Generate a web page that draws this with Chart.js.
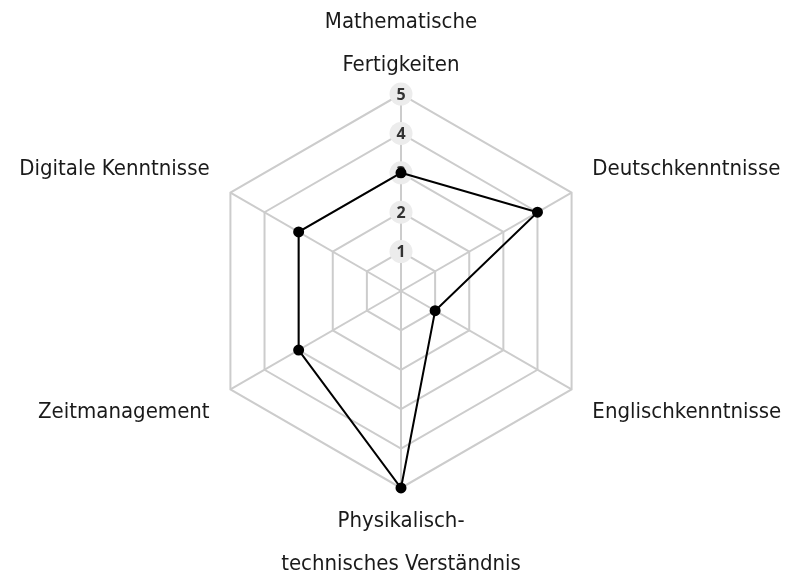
<!DOCTYPE html>
<html>
<head>
<meta charset="utf-8">
<script src="https://cdn.jsdelivr.net/npm/chart.js@4"></script>
<style>
  html, body { margin: 0; padding: 0; background: #fff; overflow: hidden; }
  /* etwas höher als das Fenster: die untere Beschriftung ragt leicht über den Rand */
  #wrap { width: 794px; height: 590px; margin-top: -1px; }
</style>
</head>
<body>
<div id="wrap"><canvas id="myChart"></canvas></div>
<script>
// Kategorien, Werte und Skalenbeschriftungen
const kategorien = [
  ['Mathematische', 'Fertigkeiten'],
  'Deutschkenntnisse',
  'Englischkenntnisse',
  ['Physikalisch-', 'technisches Verständnis'],
  'Zeitmanagement',
  'Digitale Kenntnisse'
];
const werte = [3, 4, 1, 5, 3, 3];
const skalaTicks = [1, 2, 3, 4, 5];
const skalaMax = 5;

// runde Hintergründe für die Skalenwerte (auf der oberen Achse)
const tickKreise = {
  id: 'tickKreise',
  beforeDatasetsDraw(chart) {
    const skala = chart.scales.r;
    const ctx = chart.ctx;
    ctx.save();
    skalaTicks.forEach(wert => {
      const pos = skala.getPointPositionForValue(0, wert);
      ctx.beginPath();
      ctx.fillStyle = '#ececec';
      ctx.arc(pos.x, pos.y, 11.5, 0, Math.PI * 2);
      ctx.fill();
      ctx.fillStyle = '#333';
      ctx.font = 'bold 16px "Noto Sans"';
      ctx.textAlign = 'center';
      ctx.textBaseline = 'middle';
      ctx.fillText(String(wert), pos.x, pos.y + 1);
    });
    ctx.restore();
  }
};

const data = {
  labels: kategorien,
  datasets: [{
    label: 'Profil',
    data: werte,
    fill: false,
    borderColor: '#000',
    borderWidth: 2,
    pointBackgroundColor: '#000',
    pointBorderColor: '#000',
    pointRadius: 4.5,
    tension: 0
  }]
};

// Abstand und Zeilenhöhe der Achsenbeschriftungen je Position
const labelAbstand = i => (i === 0 ? 7 : i === 3 ? 12 : 24);
const labelZeile = i => (i % 3 === 0 ? 1.955 : 1.0);

const config = {
  type: 'radar',
  data: data,
  plugins: [tickKreise],
  options: {
    responsive: true,
    maintainAspectRatio: false,
    animation: false,
    layout: { padding: { left: 8 } },
    plugins: {
      legend: { display: false },
      tooltip: { enabled: false }
    },
    scales: {
      r: {
        min: 0,
        max: skalaMax,
        ticks: { display: false, stepSize: 1 },
        grid: { color: '#cccccc', lineWidth: 2 },
        angleLines: { color: '#cccccc', lineWidth: 2 },
        pointLabels: {
          color: '#1a1a1a',
          padding: ctx => labelAbstand(ctx.index),
          font: ctx => ({
            family: 'DejaVu Sans Condensed',
            size: 22,
            lineHeight: labelZeile(ctx.index)
          })
        }
      }
    }
  }
};

var myChart = new Chart(document.getElementById('myChart'), config);
</script>
</body>
</html>
